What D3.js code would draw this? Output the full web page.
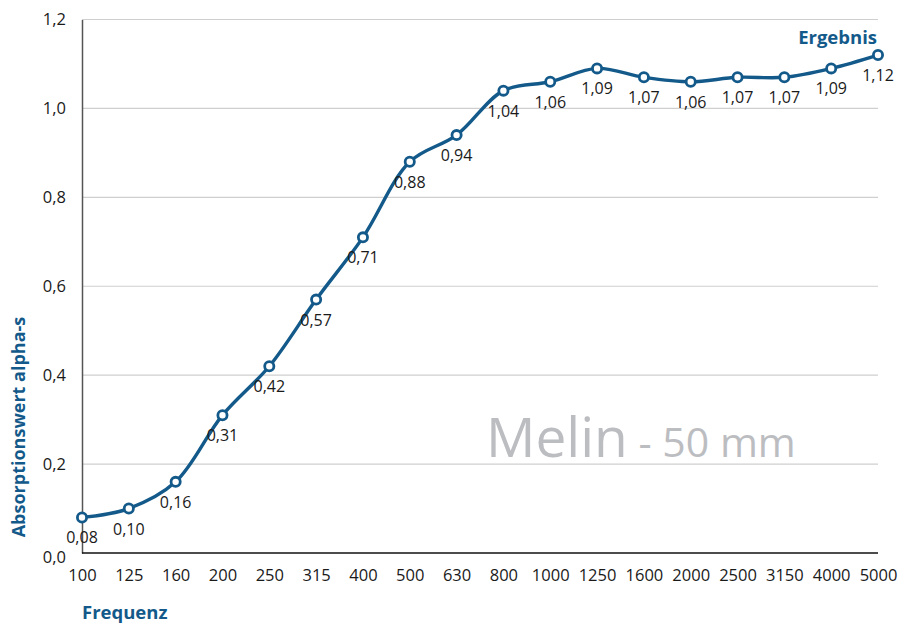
<!DOCTYPE html>
<html><head><meta charset="utf-8">
<script src="https://cdn.jsdelivr.net/npm/d3@7"></script>
<style>body{margin:0;background:#fff;} svg{display:block;font-family:"Open Sans",sans-serif;}</style>
</head><body>
<svg id="c" width="899" height="623"></svg>
<script>
const categories = ["100","125","160","200","250","315","400","500","630","800","1000","1250","1600","2000","2500","3150","4000","5000"];
const values = [0.08,0.10,0.16,0.31,0.42,0.57,0.71,0.88,0.94,1.04,1.06,1.09,1.07,1.06,1.07,1.07,1.09,1.12];
const yTicks = [0,0.2,0.4,0.6,0.8,1.0,1.2];
const seriesName = "Ergebnis";

const svg = d3.select("#c");
const blue = "#135a8a";
const x = d3.scalePoint().domain(categories).range([82,878]);
const y = d3.scaleLinear().domain([0,1.2]).range([553,19.5]);
const fmt = v => d3.format(".2f")(v).replace(".",",");
const fmt1 = v => d3.format(".1f")(v).replace(".",",");

// grid
svg.append("g").selectAll("line").data(yTicks.filter(d=>d>0)).join("line")
  .attr("x1",82).attr("x2",878).attr("y1",d=>y(d)).attr("y2",d=>y(d))
  .attr("stroke","#cfcfcf").attr("stroke-width",1.2);

// y axis
const ya = svg.append("g").attr("transform","translate(82,0)")
  .call(d3.axisLeft(y).tickValues(yTicks).tickFormat(fmt1).tickSize(0).tickPadding(16));
ya.select(".domain").attr("stroke","#555").attr("stroke-width",1.5);
ya.selectAll("text").attr("font-size",16.5).attr("fill","#1a1a1a").attr("font-family","Open Sans");
ya.selectAll(".tick").filter(d=>d===0).select("text").attr("dy","0.6em");

// x axis
const xa = svg.append("g").attr("transform","translate(0,553)")
  .call(d3.axisBottom(x).tickSize(0).tickPadding(16));
xa.select(".domain").attr("stroke","#111").attr("stroke-width",1.5).attr("d","M82,0H878");
xa.selectAll("text").attr("font-size",16.5).attr("fill","#1a1a1a").attr("font-family","Open Sans");

// watermark
svg.append("text").attr("x",486).attr("y",457).attr("fill","#bcbdc1")
  .attr("font-family","Open Sans")
  .call(t=>{
    t.append("tspan").attr("font-size",55).text("Melin");
    t.append("tspan").attr("font-size",41).text(" - 50 mm");
  });

// line
const pts = categories.map((c,i)=>({c,v:values[i]}));
svg.append("path").datum(pts)
  .attr("d",d3.line().x(d=>x(d.c)).y(d=>y(d.v)).curve(d3.curveCatmullRom.alpha(0.5)))
  .attr("fill","none").attr("stroke",blue).attr("stroke-width",3.4);
svg.append("g").selectAll("circle").data(pts).join("circle")
  .attr("cx",d=>x(d.c)).attr("cy",d=>y(d.v)).attr("r",4.6)
  .attr("fill","#fff").attr("stroke",blue).attr("stroke-width",2.8);

// labels
svg.append("g").selectAll("text").data(pts).join("text")
  .attr("x",d=>x(d.c)).attr("y",d=>y(d.v)+26)
  .attr("text-anchor","middle").attr("font-size",16).attr("fill","#1a1a1a")
  .text(d=>fmt(d.v));

// series name
svg.append("text").attr("x",877).attr("y",44).attr("text-anchor","end")
  .attr("font-size",18.5).attr("font-weight","bold").attr("fill",blue).text(seriesName);

// axis titles
svg.append("text").attr("transform","translate(25,427) rotate(-90)").attr("text-anchor","middle")
  .attr("font-size",18).attr("font-weight","bold").attr("fill",blue).text("Absorptionswert alpha-s");
svg.append("text").attr("x",82).attr("y",619)
  .attr("font-size",18.5).attr("font-weight","bold").attr("fill",blue).text("Frequenz");
</script>
</body></html>
